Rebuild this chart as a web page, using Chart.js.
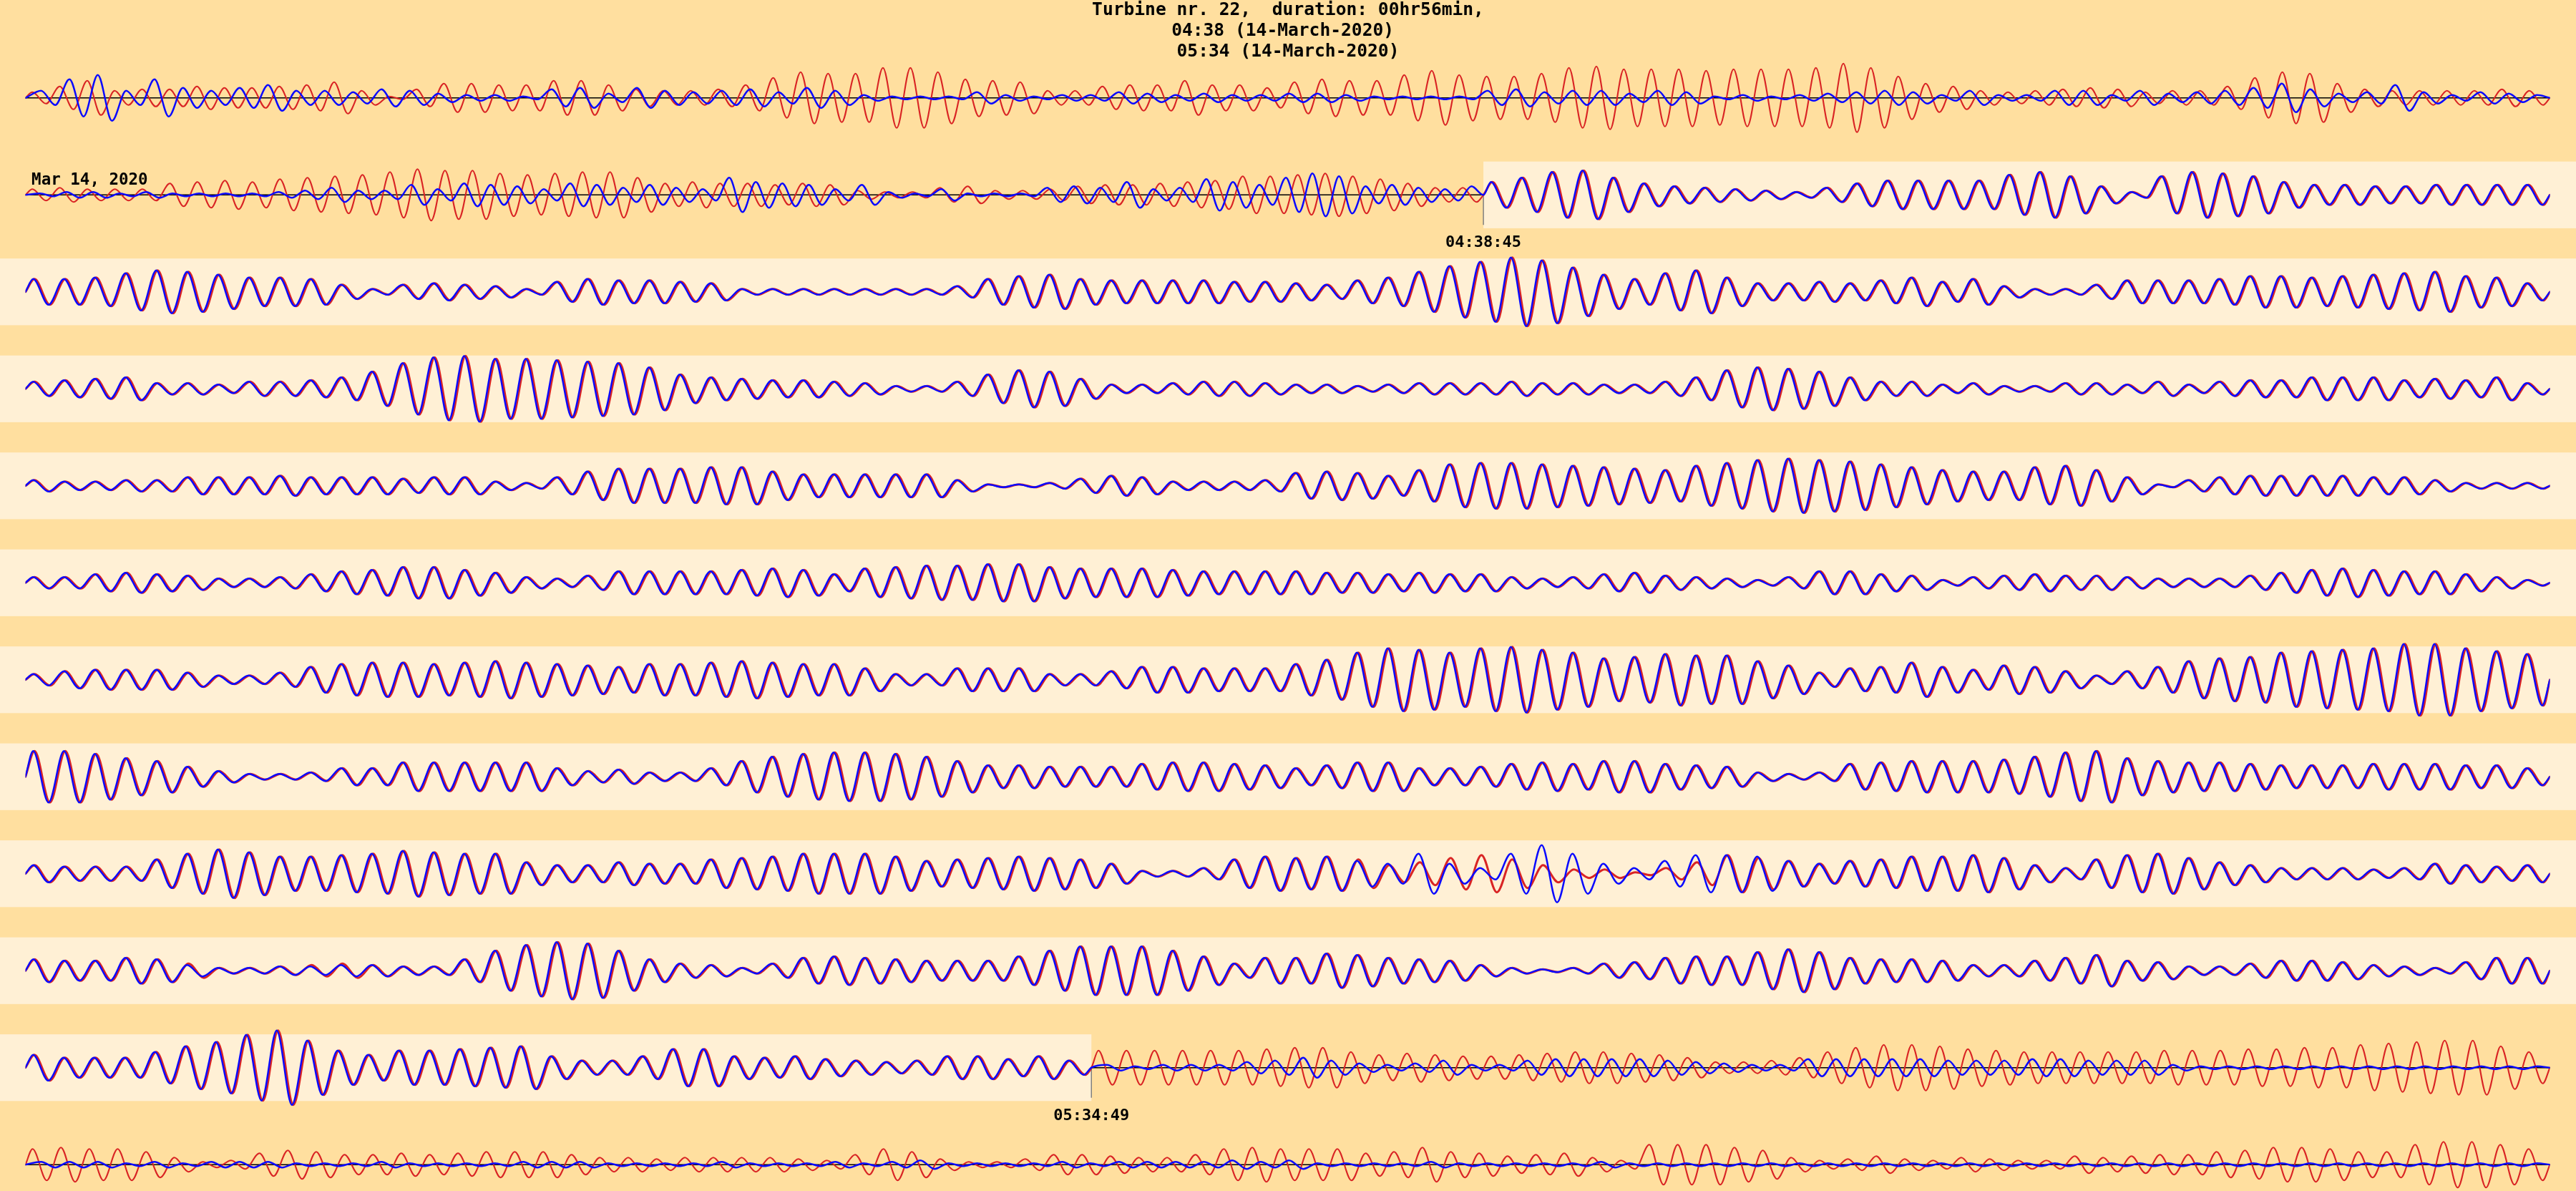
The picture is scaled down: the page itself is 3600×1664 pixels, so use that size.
<!DOCTYPE html>
<html>
<head>
<meta charset="utf-8">
<title>Turbine nr. 22</title>
<script src="https://cdn.jsdelivr.net/npm/chart.js@4.4.1/dist/chart.umd.min.js"></script>
<style>
html,body{margin:0;padding:0;background:#ffdf9f;overflow:hidden;}
canvas{display:block;}
</style>
</head>
<body>
<canvas id="chart" width="3600" height="1664"></canvas>
<script>
// ---------------- data ----------------
const titleLines = ["Turbine nr. 22,  duration: 00hr56min,", "04:38 (14-March-2020) ", "05:34 (14-March-2020)"];
const dateLabel = "Mar 14, 2020";
const dateLabelRow = 1;
const eventLabels = ["04:38:45", "05:34:49"];
const rowSeconds = 380.34;          // seconds of signal per wrapped row (row 0 starts 04:28:45)
const eventTimes = [600, 3964];     // seconds after 04:28:45 -> 04:38:45 and 05:34:49

// per-cycle amplitude (base-36 digit, x2 = px), '|' = event boundary
const redAmp = [
  "48c5668778"+"9b516aa99c"+"c965569eih"+"hllidcb558"+"99c997b"+"dccgjgffhl"+"mkkkjkkklo"+"lfa8545676"+"4558eiha65"+"55565",
  "4544489a9b"+"cdegihhfef"+"ggc8988787"+"3225633467"+"789add"+"efdb855"+"|"+"9cghc86543"+"258aaaaegd"+"62dgfd9776"+"67777",
  "99adfecaa9"+"5256542798"+"8762222222"+"49bc988887"+"7"+"658aeilomh"+"c9dfa66768"+"a794225888"+"9bbabcdeba"+"6",
  "5678443556"+"8cimnllkji"+"fa87665422"+"5adc733455"+"4"+"3323444544"+"3358dfec85"+"5342244353"+"5668886768"+"4",
  "4334466676"+"66566326ac"+"ccdda88888"+"4112576333"+"4"+"9a97bfggfe"+"dcbegijihf"+"dbaadeb614"+"6777766422"+"2",
  "4467653346"+"89bb974358"+"8889a96abc"+"cddbaaa988"+"8"+"8776766434"+"6754324886"+"5245655433"+"3579a98864"+"2",
  "4677753359"+"bccbcdcba9"+"bbcdcbb844"+"8884469988"+"8"+"bejmljmnlj"+"fgihhda589"+"c97a96369d"+"fgjklmppmk"+"i",
  "iigdb74223"+"66aaaaa645"+"336beghhge"+"b887779aa9"+"8"+"68aa6679a9"+"bb9873239a"+"bbbcehidba"+"a988899988"+"6",
  "6555aehfcc"+"degfee8668"+"77abceeec9"+"abcba7224a"+"c"+"bca68bda63"+"3148db979a"+"ccdb64adeb"+"8644434765"+"6",
  "8779852234"+"54338eikje"+"854259a987"+"77aehhhea5"+"9"+"9cb9874212"+"569aadfd98"+"874479b763"+"3577643269"+"9",
  "9777bfinqj"+"c9ccdef855"+"8dd8786545"+"88685"+"|"+"ccccccd"+"eeb9a9889a"+"bba974457b"+"eggfdcbbbb"+"bcccddeegh"+"ijjfb",
  "bcbb95238a"+"9778789997"+"5545555437"+"b942247765"+"57bcb"+"bb89c98678"+"53eeeca534"+"6435433656"+"779accb99e"+"ggeb"
];
const blueAmp = [
  "5dg5d75795"+"5465322167"+"3754564752"+"1114212243"+"232"+"23321111"+"5645535412"+"1234542522"+"55253457a6"+"34942432",
  "1221211112"+"3533748764"+"875754c987"+"4721411156"+"5945b97c"+"fd67546"+"|"+"9cghc86543"+"258aaaaegd"+"62dgfd9776"+"67777",
  "99adfecaa9"+"5256542798"+"8762222222"+"49bc988887"+"7"+"658aeilomh"+"c9dfa66768"+"a794225888"+"9bbabcdeba"+"6",
  "5678443556"+"8cimnllkji"+"fa87665422"+"5adc733455"+"4"+"3323444544"+"3358dfec85"+"5342244353"+"5668886768"+"4",
  "4334466676"+"66566326ac"+"ccdda88888"+"4112576333"+"4"+"9a97bfggfe"+"dcbegijihf"+"dbaadeb614"+"6777766422"+"2",
  "4467653346"+"89bb974358"+"8889a96abc"+"cddbaaa988"+"8"+"8776766434"+"6754324886"+"5245655433"+"3579a98864"+"2",
  "4677753359"+"bccbcdcba9"+"bbcdcbb844"+"8884469988"+"8"+"bejmljmnlj"+"fgihhda589"+"c97a96369d"+"fgjklmppmk"+"i",
  "iigdb74223"+"66aaaaa645"+"336beghhge"+"b887779aa9"+"8"+"68aa6679a9"+"bb9873239a"+"bbbcehidba"+"a988899988"+"6",
  "6555aehfcc"+"degfee8668"+"77abceeec9"+"abcba7224a"+"c"+"bc97e74eke"+"749ddc979a"+"ccdb64adeb"+"8644434765"+"6",
  "8779842233"+"44338eikje"+"854259a987"+"77aehhhea5"+"9"+"9cb9874212"+"569aadfd98"+"874479b763"+"3577643269"+"9",
  "9777bfinqj"+"c9ccdef855"+"8dd8786545"+"88685"+"|"+"2122245"+"7532352256"+"6665432266"+"6665556655"+"52"+"1111111111111",
  "2221212221"+"1121111222"+"1111211121"+"2311112122"+"22323"+"1111211111"+"2111111111"+"1111111111"+"1111111111"+"1111"
];

// ---------------- style / layout ----------------
const ROW_Y0 = 136.8, ROW_GAP = 135.49, BAND_HALF = 46.6;
const BG = '#ffdf9f', BAND = '#fff0d5', RED = '#d92424', BLUE = '#0a0aff';
const BLUE_OFF_PHASE = 0.3;   // phase shift of blue outside the event window
const RED_BAND_PHASE = 0.045; // small lag of red inside the event window
const N_ROWS = redAmp.length;

function rowBase(i) { return -(ROW_Y0 + i * ROW_GAP); }
function inEvent(t) { return t >= eventTimes[0] && t <= eventTimes[1]; }

function buildRow(str, row, offPhase, bandPhase) {
  const r0 = row * rowSeconds, r1 = r0 + rowSeconds;
  const parts = str.split('|');
  let cuts = [0, rowSeconds];
  if (parts.length === 2) {
    const te = eventTimes.find(t => t > r0 && t < r1) - r0;
    cuts = [0, te, rowSeconds];
  }
  const base = rowBase(row);
  const pts = [];
  const push = (x, y) => {
    if (pts.length && x <= pts[pts.length - 1].x + 1e-9) return;
    pts.push({ x, y });
  };
  parts.forEach((s, si) => {
    const t0 = cuts[si], t1 = cuts[si + 1];
    const ph = inEvent(r0 + (t0 + t1) / 2) ? bandPhase : offPhase;
    const P = (t1 - t0) / s.length;
    push(t0, base);
    for (let k = 0; k < s.length; k++) {
      const a = parseInt(s[k], 36) * 2;
      const tp = t0 + (k + 0.25 + ph) * P, tt = t0 + (k + 0.75 + ph) * P;
      if (tp < t1) push(tp, base + a);
      if (tt < t1) push(tt, base - a);
    }
    push(t1, base);
  });
  return pts;
}

const datasets = [];
for (let r = 0; r < N_ROWS; r++) {
  const common = { pointRadius: 0, fill: false, cubicInterpolationMode: 'monotone', borderJoinStyle: 'round', borderCapStyle: 'round' };
  datasets.push(Object.assign({
    label: 'blue ' + r, data: buildRow(blueAmp[r], r, BLUE_OFF_PHASE, 0),
    borderColor: BLUE, borderWidth: 2.5, order: 0
  }, common));
  datasets.push(Object.assign({
    label: 'red ' + r, data: buildRow(redAmp[r], r, 0, RED_BAND_PHASE),
    borderColor: RED, borderWidth: 2, order: 1,
    segment: { borderWidth: c => inEvent(r * rowSeconds + (c.p0.parsed.x + c.p1.parsed.x) / 2) ? 3.0 : 2.1 }
  }, common));
}

const decorPlugin = {
  id: 'decor',
  beforeDraw(chart) {
    const { ctx } = chart;
    ctx.save(); ctx.fillStyle = BG; ctx.fillRect(0, 0, chart.width, chart.height); ctx.restore();
  },
  beforeDatasetsDraw(chart) {
    const { ctx, scales: { x, y } } = chart;
    ctx.save();
    for (let r = 0; r < N_ROWS; r++) {
      const r0 = r * rowSeconds, r1 = r0 + rowSeconds;
      const yc = y.getPixelForValue(rowBase(r));
      const b0 = Math.max(eventTimes[0], r0), b1 = Math.min(eventTimes[1], r1);
      if (b1 > b0) {
        const xa = b0 <= r0 ? 0 : x.getPixelForValue(b0 - r0);
        const xb = b1 >= r1 ? chart.width : x.getPixelForValue(b1 - r0);
        ctx.fillStyle = BAND;
        ctx.fillRect(xa, yc - BAND_HALF, xb - xa, 2 * BAND_HALF);
      }
      const offs = [];
      if (r0 < eventTimes[0]) offs.push([r0, Math.min(r1, eventTimes[0])]);
      if (r1 > eventTimes[1]) offs.push([Math.max(r0, eventTimes[1]), r1]);
      ctx.strokeStyle = '#000'; ctx.lineWidth = 1.5;
      for (const [a, b] of offs) {
        ctx.beginPath();
        ctx.moveTo(x.getPixelForValue(a - r0), yc);
        ctx.lineTo(x.getPixelForValue(b - r0), yc);
        ctx.stroke();
      }
      eventTimes.forEach(t => {
        if (t > r0 && t < r1) {
          const xp = x.getPixelForValue(t - r0);
          ctx.strokeStyle = '#7f7f7f'; ctx.lineWidth = 1.5;
          ctx.beginPath(); ctx.moveTo(xp, yc); ctx.lineTo(xp, yc + 42); ctx.stroke();
        }
      });
    }
    ctx.restore();
  },
  afterDatasetsDraw(chart) {
    const { ctx, scales: { x, y } } = chart;
    ctx.save();
    ctx.fillStyle = '#000';
    ctx.textBaseline = 'alphabetic';
    ctx.textAlign = 'center';
    ctx.font = 'bold 24.6px "DejaVu Sans Mono", monospace';
    titleLines.forEach((s, i) => ctx.fillText(s, chart.width / 2, 21 + i * 28.75));
    ctx.textAlign = 'left';
    ctx.font = 'bold 22.5px "DejaVu Sans Mono", monospace';
    ctx.fillText(dateLabel, chart.chartArea.left + 8.5, y.getPixelForValue(rowBase(dateLabelRow)) - 14);
    ctx.textAlign = 'center';
    ctx.font = 'bold 22px "DejaVu Sans Mono", monospace';
    eventTimes.forEach((t, i) => {
      const r = Math.floor(t / rowSeconds);
      const xp = x.getPixelForValue(t - r * rowSeconds);
      ctx.fillText(eventLabels[i], xp, y.getPixelForValue(rowBase(r)) + 73);
    });
    ctx.restore();
  }
};

new Chart(document.getElementById('chart').getContext('2d'), {
  type: 'line',
  data: { datasets },
  options: {
    responsive: false,
    animation: false,
    events: [],
    parsing: false,
    layout: { padding: { left: 35.6, right: 36.5, top: 0, bottom: 0 } },
    scales: {
      x: { type: 'linear', min: 0, max: rowSeconds, display: false },
      y: { type: 'linear', min: -1664, max: 0, display: false }
    },
    plugins: { legend: { display: false }, tooltip: { enabled: false }, title: { display: false } }
  },
  plugins: [decorPlugin]
});
</script>
</body>
</html>
